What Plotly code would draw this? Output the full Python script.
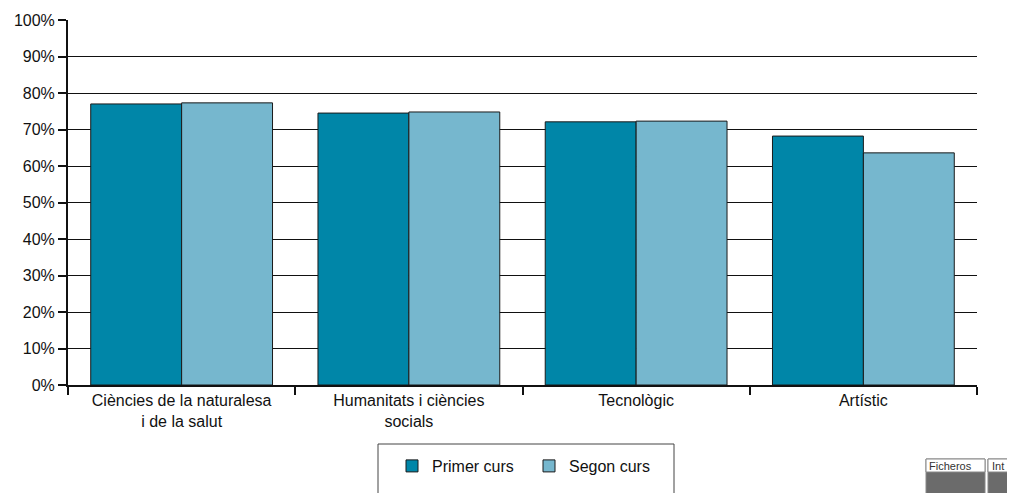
import plotly.graph_objects as go

categories = ["Ciències de la naturalesa<br>i de la salut", "Humanitats i ciències<br>socials", "Tecnològic", "Artístic"]
primer_curs = [77.0, 74.5, 72.1, 68.2]
segon_curs = [77.3, 74.8, 72.3, 63.6]
tick_vals = [0, 10, 20, 30, 40, 50, 60, 70, 80, 90, 100]
tick_text = [f"{v}%" for v in tick_vals]

# The page body has an 8px margin, so the figure is shifted by 8px; compensate.
OFF = 8
W, H = 1015 - OFF, 493 - OFF
L, R, T, B = 68 - OFF, 38, 20 - OFF, 108
PLOT_L, PLOT_R, PLOT_T, PLOT_B = 68, 977, 20, 385

def px(x):
    return (x - PLOT_L) / (PLOT_R - PLOT_L)

def py(y):
    return (PLOT_B - y) / (PLOT_B - PLOT_T)

fig = go.Figure()
fig.add_trace(go.Bar(x=categories, y=primer_curs, name="Primer curs",
                     marker=dict(color="#0086A8", line=dict(color="#1a1a1a", width=1))))
fig.add_trace(go.Bar(x=categories, y=segon_curs, name="Segon curs",
                     marker=dict(color="#76B7CE", line=dict(color="#1a1a1a", width=1))))

fig.update_layout(
    width=W, height=H,
    margin=dict(l=L, r=R, t=T, b=B, autoexpand=False),
    paper_bgcolor="white", plot_bgcolor="white",
    barmode="group", bargap=0.2, bargroupgap=0,
    font=dict(family="Liberation Sans, Arial, sans-serif", size=16, color="#111"),
    showlegend=True,
    legend=dict(orientation="h", x=px(392), xanchor="left", y=py(449), yanchor="top",
                borderwidth=0, bgcolor="rgba(0,0,0,0)",
                font=dict(size=16), entrywidth=92, itemwidth=30),
)
fig.update_yaxes(range=[0, 100], tickvals=tick_vals, ticktext=tick_text,
                 showgrid=True, gridcolor="#111", gridwidth=1,
                 showline=True, linecolor="#111", linewidth=2,
                 ticks="outside", ticklen=8, tickcolor="#111", tickwidth=2,
                 zeroline=False, layer="below traces", automargin=False)
fig.update_xaxes(showline=True, linecolor="#111", linewidth=2,
                 ticks="outside", ticklen=8, tickcolor="#111", tickwidth=2,
                 tickson="boundaries", showgrid=False, automargin=False)

# Legend frame
fig.add_shape(type="rect", xref="paper", yref="paper", x0=px(378), x1=px(674),
              y0=py(505), y1=py(444), fillcolor="rgba(0,0,0,0)", line=dict(color="#444", width=1), layer="below")

# Bottom-right window fragment
for x0, x1 in [(926, 985), (988, 1016)]:
    fig.add_shape(type="rect", xref="paper", yref="paper", x0=px(x0), x1=px(x1),
                  y0=py(495), y1=py(459), fillcolor="#6b6b6b", line=dict(color="#888", width=1))
    fig.add_shape(type="rect", xref="paper", yref="paper", x0=px(x0), x1=px(x1),
                  y0=py(472), y1=py(459), fillcolor="white", line=dict(color="#888", width=1))
fig.add_annotation(xref="paper", yref="paper", x=px(927), y=py(465.5), text="Ficheros",
                   showarrow=False, xanchor="left", yanchor="middle", font=dict(size=11, color="#333"))
fig.add_annotation(xref="paper", yref="paper", x=px(990), y=py(465.5), text="Int",
                   showarrow=False, xanchor="left", yanchor="middle", font=dict(size=11, color="#333"))

fig.write_html("out.html")
